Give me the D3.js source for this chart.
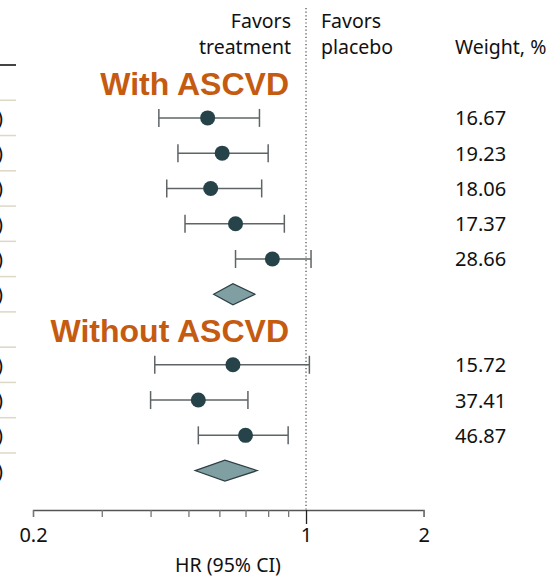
<!DOCTYPE html>
<html>
<head>
<meta charset="utf-8">
<script src="https://cdn.jsdelivr.net/npm/d3@7"></script>
<style>
  html, body { margin: 0; padding: 0; background: #fff; overflow: hidden; }
  svg { display: block; }
</style>
</head>
<body>
<div id="chart"></div>
<script>
// Forest plot: HR (95% CI) by ASCVD subgroup

// group titles and the row they sit in
const groupTitles = ['With ASCVD', 'Without ASCVD'];
const groupTitleRows = [0, 7];

// study rows (row index in the table)
const studyRows = [1, 2, 3, 4, 5, 8, 9, 10];
const studyHR = [0.56, 0.61, 0.57, 0.66, 0.82, 0.65, 0.53, 0.70];
const studyLow = [0.42, 0.47, 0.44, 0.49, 0.66, 0.41, 0.40, 0.53];
const studyHigh = [0.76, 0.80, 0.77, 0.88, 1.03, 1.02, 0.71, 0.90];
const studyWeight = ['16.67', '19.23', '18.06', '17.37', '28.66', '15.72', '37.41', '46.87'];

// pooled estimates
const pooledRows = [6, 11];
const pooledHR = [0.65, 0.62];
const pooledLow = [0.58, 0.52];
const pooledHigh = [0.74, 0.75];

// axis
const tickValues = [0.2, 0.3, 0.4, 0.5, 0.6, 0.7, 0.8, 0.9, 1, 2];
const tickLabels = { 0.2: '0.2', 1: '1', 2: '2' };

const width = 548;
const height = 576;
const nRows = 12;
const tableTop = 65;
const rowH = 35.27;
const axisY = 510;

const font = '"Noto Sans", "Open Sans", sans-serif';

const svg = d3.select('#chart')
    .append('svg')
    .attr('width', width)
    .attr('height', height);

const x = d3.scaleLog()
    .domain([0.2, 2])
    .range([33, 423.6]);

const y = d3.scaleBand()
    .domain(d3.range(nRows))
    .range([tableTop, tableTop + rowH * nRows]);

const cy = i => y(i) + y.bandwidth() / 2;

// clipped table column on the left edge: separators and the end of CI text
svg.append('line')
    .attr('x1', 0).attr('x2', 16)
    .attr('y1', tableTop).attr('y2', tableTop)
    .attr('stroke', '#444').attr('stroke-width', 2);

svg.selectAll('.sep')
    .data(d3.range(1, nRows))
    .enter()
    .append('line')
    .attr('class', 'sep')
    .attr('x1', 0).attr('x2', 16)
    .attr('y1', d => y(d)).attr('y2', d => y(d))
    .attr('stroke', '#dcd8c6').attr('stroke-width', 1.5);

const ciRows = studyRows.map((r, i) => ({ row: r, hr: studyHR[i], lo: studyLow[i], hi: studyHigh[i] }))
    .concat(pooledRows.map((r, i) => ({ row: r, hr: pooledHR[i], lo: pooledLow[i], hi: pooledHigh[i] })));

svg.selectAll('.citext')
    .data(ciRows)
    .enter()
    .append('text')
    .attr('class', 'citext')
    .attr('x', 3)
    .attr('y', d => cy(d.row) + 7)
    .attr('text-anchor', 'end')
    .style('font-family', font)
    .style('font-size', '20px')
    .style('fill', '#111')
    .text(d => `${d.hr.toFixed(2)} (${d.lo.toFixed(2)}-${d.hi.toFixed(2)})`);

// header
const header = svg.append('g')
    .style('font-family', font)
    .style('font-size', '19.5px')
    .style('fill', '#111');

header.append('text').attr('x', 291).attr('y', 28).attr('text-anchor', 'end').text('Favors');
header.append('text').attr('x', 291).attr('y', 54).attr('text-anchor', 'end').text('treatment');
header.append('text').attr('x', 321).attr('y', 28).text('Favors');
header.append('text').attr('x', 321).attr('y', 54).text('placebo');
header.append('text').attr('x', 455).attr('y', 54).text('Weight, %');

// reference line at HR = 1
svg.append('line')
    .attr('x1', x(1)).attr('x2', x(1))
    .attr('y1', 8).attr('y2', axisY)
    .attr('stroke', '#444')
    .attr('stroke-width', 1.2)
    .attr('stroke-dasharray', '1.2,2.4');

// group titles
svg.selectAll('.gtitle')
    .data(groupTitles)
    .enter()
    .append('text')
    .attr('class', 'gtitle')
    .attr('x', 289)
    .attr('y', (d, i) => y(groupTitleRows[i]) + 30)
    .attr('text-anchor', 'end')
    .style('font-family', '"Liberation Sans", Arial, sans-serif')
    .style('font-weight', 'bold')
    .style('font-size', '32px')
    .style('fill', '#c55a11')
    .text(d => d);

// study CIs
const studies = studyRows.map((r, i) => ({
    row: r, hr: studyHR[i], lo: studyLow[i], hi: studyHigh[i], w: studyWeight[i]
}));

const g = svg.append('g');

g.selectAll('.ci')
    .data(studies)
    .enter()
    .append('line')
    .attr('x1', d => x(d.lo)).attr('x2', d => x(d.hi))
    .attr('y1', d => cy(d.row)).attr('y2', d => cy(d.row))
    .attr('stroke', '#5f6466').attr('stroke-width', 1.5);

['lo', 'hi'].forEach(k => {
    g.selectAll('.cap-' + k)
        .data(studies)
        .enter()
        .append('line')
        .attr('x1', d => x(d[k])).attr('x2', d => x(d[k]))
        .attr('y1', d => cy(d.row) - 9).attr('y2', d => cy(d.row) + 9)
        .attr('stroke', '#5f6466').attr('stroke-width', 1.5);
});

g.selectAll('.pt')
    .data(studies)
    .enter()
    .append('circle')
    .attr('cx', d => x(d.hr))
    .attr('cy', d => cy(d.row))
    .attr('r', 7.5)
    .attr('fill', '#26434a');

// pooled diamonds
const pooled = pooledRows.map((r, i) => ({ row: r, hr: pooledHR[i], lo: pooledLow[i], hi: pooledHigh[i] }));

g.selectAll('.diamond')
    .data(pooled)
    .enter()
    .append('path')
    .attr('d', d => {
        const c = cy(d.row);
        return `M${x(d.lo)},${c}L${x(d.hr)},${c - 10.5}L${x(d.hi)},${c}L${x(d.hr)},${c + 10.5}Z`;
    })
    .attr('fill', '#7f9fa2')
    .attr('stroke', '#2c3f44')
    .attr('stroke-width', 1.2);

// weights
svg.selectAll('.weight')
    .data(studies)
    .enter()
    .append('text')
    .attr('x', 455)
    .attr('y', d => cy(d.row) + 7.5)
    .style('font-family', font)
    .style('font-size', '20px')
    .style('fill', '#111')
    .text(d => d.w);

// x axis
const axis = svg.append('g')
    .attr('transform', `translate(0,${axisY})`)
    .call(d3.axisBottom(x)
        .tickValues(tickValues)
        .tickSizeOuter(0)
        .tickSize(7)
        .tickFormat(d => tickLabels[d] || ''));

axis.select('.domain').attr('stroke', '#555').attr('stroke-width', 1.3);
axis.selectAll('.tick line').attr('stroke', '#777').attr('stroke-width', 1.3);
axis.selectAll('.tick')
    .filter(d => d === 1)
    .select('line')
    .attr('y2', 14)
    .attr('stroke', '#222');
axis.selectAll('.tick text')
    .attr('y', 18)
    .style('font-family', font)
    .style('font-size', '20px')
    .style('fill', '#111');

svg.append('text')
    .attr('x', 228)
    .attr('y', 572)
    .attr('text-anchor', 'middle')
    .style('font-family', font)
    .style('font-size', '19.5px')
    .style('fill', '#111')
    .text('HR (95% CI)');
</script>
</body>
</html>
